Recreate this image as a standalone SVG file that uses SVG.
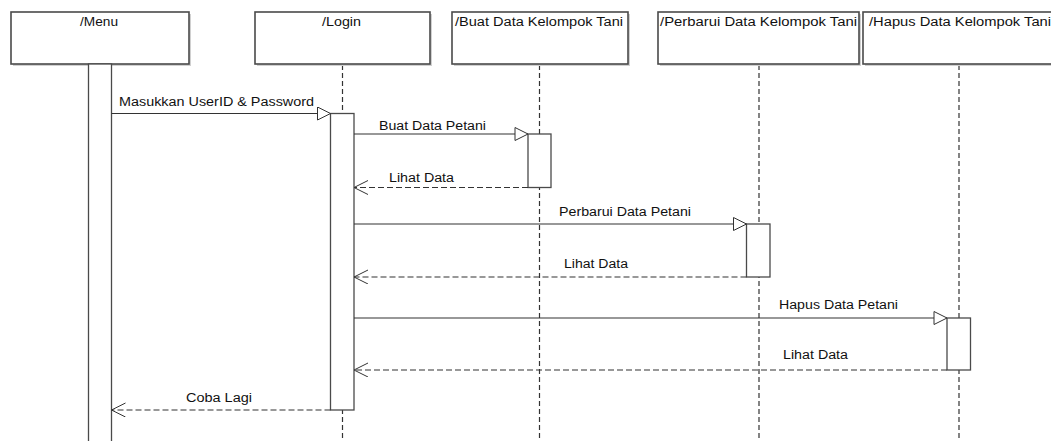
<svg xmlns="http://www.w3.org/2000/svg" width="1051" height="441" viewBox="0 0 1051 441">
<style>
.box{fill:#fff;stroke:#4a4a4a;stroke-width:1.6}
.shadow{fill:#d0d0d0}
.bar{fill:#fff;stroke:#4a4a4a;stroke-width:1.3}
.life{stroke:#333;stroke-width:1.2;stroke-dasharray:5 3;fill:none}
.msg{stroke:#333;stroke-width:1.2;fill:none}
.ret{stroke:#333;stroke-width:1.2;fill:none;stroke-dasharray:6 3}
text{font-family:"Liberation Sans",Arial,sans-serif;font-size:12px;fill:#111}
.hd{text-anchor:middle}
</style>
<defs>
<marker id="tri" markerUnits="userSpaceOnUse" markerWidth="16" markerHeight="16" refX="14" refY="7" orient="auto">
<path d="M1,0.5 L14,7 L1,13.5 z" fill="#fff" stroke="#333" stroke-width="1"/>
</marker>
<marker id="vee" markerUnits="userSpaceOnUse" markerWidth="16" markerHeight="16" refX="14" refY="7" orient="auto">
<path d="M0,0 L14,7 L0,14" fill="none" stroke="#333" stroke-width="1"/>
</marker>
</defs>

<g id="lifelines">
<line class="life" x1="342.5" y1="65" x2="342.5" y2="441"/>
<line class="life" x1="539.5" y1="65" x2="539.5" y2="441"/>
<line class="life" x1="759" y1="65" x2="759" y2="441"/>
<line class="life" x1="959" y1="65" x2="959" y2="441"/>
</g>

<g id="menu">
<rect class="shadow" x="13" y="14" width="178" height="52"/>
<rect class="box" x="11" y="12" width="178" height="52"/>
<text class="hd" x="99" y="26" textLength="38" lengthAdjust="spacingAndGlyphs">/Menu</text>
<rect class="bar" x="88.5" y="64" width="23" height="380"/>
</g>

<g id="login">
<rect class="shadow" x="257" y="14" width="175" height="52"/>
<rect class="box" x="255" y="12" width="175" height="52"/>
<text class="hd" x="341.5" y="26" textLength="39" lengthAdjust="spacingAndGlyphs">/Login</text>
</g>

<g id="buat">
<rect class="shadow" x="454" y="14" width="176" height="52"/>
<rect class="box" x="452" y="12" width="176" height="52"/>
<text class="hd" x="539" y="26" textLength="168" lengthAdjust="spacingAndGlyphs">/Buat Data Kelompok Tani</text>
</g>

<g id="perbarui">
<rect class="shadow" x="660" y="14" width="201" height="52"/>
<rect class="box" x="658" y="12" width="201" height="52"/>
<text class="hd" x="758.5" y="26" textLength="197" lengthAdjust="spacingAndGlyphs">/Perbarui Data Kelompok Tani</text>
</g>

<g id="hapus">
<rect class="shadow" x="865" y="14" width="194" height="52"/>
<rect class="box" x="863" y="12" width="194" height="52"/>
<text class="hd" x="960" y="26" textLength="182" lengthAdjust="spacingAndGlyphs">/Hapus Data Kelompok Tani</text>
</g>

<g id="activations">
<rect class="bar" x="330.5" y="113.5" width="23.5" height="296.5"/>
<rect class="bar" x="528" y="134" width="23" height="53.5"/>
<rect class="bar" x="746.5" y="224" width="23.5" height="53"/>
<rect class="bar" x="947" y="318" width="23.5" height="52"/>
</g>

<g id="connectors">
<line class="msg" x1="111.5" y1="113.5" x2="330.5" y2="113.5" marker-end="url(#tri)"/>
<text x="119" y="106" textLength="195" lengthAdjust="spacingAndGlyphs">Masukkan UserID &amp; Password</text>

<line class="msg" x1="354" y1="134" x2="528" y2="134" marker-end="url(#tri)"/>
<text x="379" y="129.5" textLength="107" lengthAdjust="spacingAndGlyphs">Buat Data Petani</text>

<line class="ret" x1="528" y1="187.5" x2="354" y2="187.5" marker-end="url(#vee)"/>
<text x="389" y="181.5" textLength="65" lengthAdjust="spacingAndGlyphs">Lihat Data</text>

<line class="msg" x1="354" y1="224" x2="746.5" y2="224" marker-end="url(#tri)"/>
<text x="559" y="215.5" textLength="132" lengthAdjust="spacingAndGlyphs">Perbarui Data Petani</text>

<line class="ret" x1="746.5" y1="277" x2="354" y2="277" marker-end="url(#vee)"/>
<text x="564" y="268" textLength="64" lengthAdjust="spacingAndGlyphs">Lihat Data</text>

<line class="msg" x1="354" y1="318" x2="947" y2="318" marker-end="url(#tri)"/>
<text x="779" y="309" textLength="119" lengthAdjust="spacingAndGlyphs">Hapus Data Petani</text>

<line class="ret" x1="947" y1="370" x2="354" y2="370" marker-end="url(#vee)"/>
<text x="783" y="358.5" textLength="65" lengthAdjust="spacingAndGlyphs">Lihat Data</text>

<line class="ret" x1="330.5" y1="410" x2="111.5" y2="410" marker-end="url(#vee)"/>
<text x="186" y="402" textLength="66" lengthAdjust="spacingAndGlyphs">Coba Lagi</text>
</g>
</svg>
